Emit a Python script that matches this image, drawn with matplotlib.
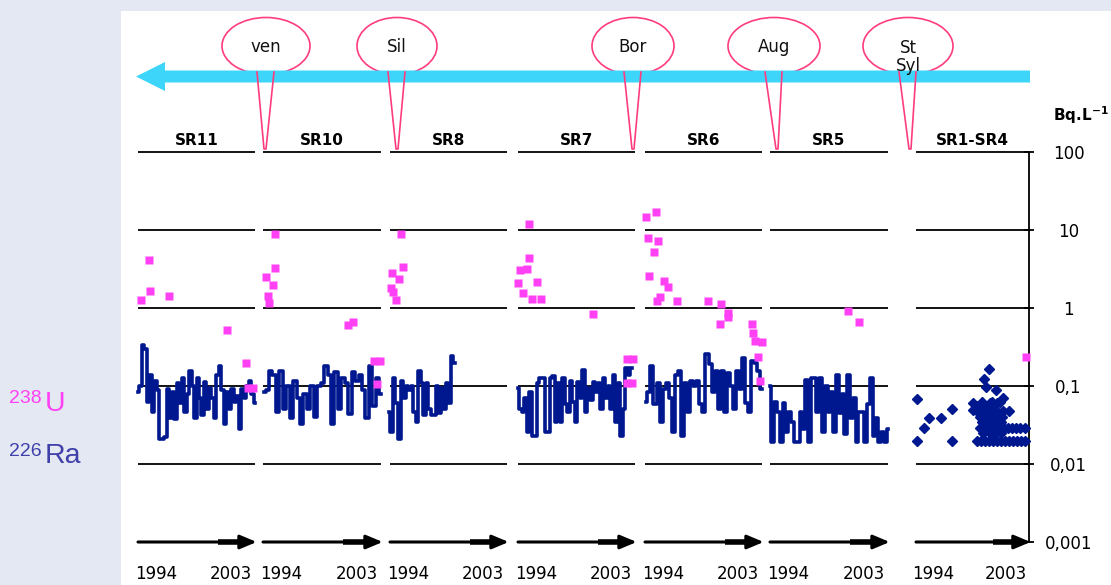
import numpy as np
import matplotlib
matplotlib.use("Agg")
import matplotlib.pyplot as plt
from matplotlib.patches import Ellipse, FancyArrow, Rectangle
from matplotlib.ticker import NullLocator

# ---- data -----------------------------------------------------------------
stations = ["SR11", "SR10", "SR8", "SR7", "SR6", "SR5", "SR1-SR4"]
year_ticks = [1994, 2003]
y_ticks = [100, 10, 1, 0.1, 0.01, 0.001]
y_tick_labels = ["100", "10", "1", "0,1", "0,01", "0,001"]
pin_labels = ["ven", "Sil", "Bor", "Aug", "St\nSyl"]

# 226Ra, regular sampling: (first year, last year) + values in Bq/L
ra_sr11_span = (1991.8, 2005.9)
ra_sr11 = [0.083, 0.10, 0.34, 0.30, 0.063, 0.14, 0.046, 0.115, 0.09, 0.021,
           0.021, 0.022, 0.091, 0.039, 0.085, 0.038, 0.11, 0.06, 0.127, 0.046,
           0.078, 0.154, 0.1, 0.039, 0.127, 0.07, 0.042, 0.114, 0.051, 0.093,
           0.07, 0.039, 0.14, 0.18, 0.09, 0.033, 0.085, 0.05, 0.091, 0.063,
           0.075, 0.028, 0.091, 0.07, 0.1, 0.115, 0.08, 0.06]
ra_sr10_span = (1991.9, 2005.9)
ra_sr10 = [0.085, 0.09, 0.154, 0.14, 0.047, 0.154, 0.05, 0.1, 0.039, 0.115,
           0.07, 0.033, 0.08, 0.05, 0.1, 0.04, 0.1, 0.11, 0.18, 0.14, 0.033,
           0.15, 0.05, 0.127, 0.11, 0.044, 0.15, 0.115, 0.14, 0.09, 0.039,
           0.18, 0.055, 0.127, 0.08]
ra_sr8_span = (1991.7, 1999.6)
ra_sr8 = [0.047, 0.026, 0.127, 0.06, 0.021, 0.115, 0.07, 0.1, 0.09, 0.1,
          0.047, 0.035, 0.154, 0.11, 0.042, 0.11, 0.05, 0.042, 0.042, 0.1,
          0.045, 0.095, 0.05, 0.11, 0.06, 0.24, 0.2]
ra_sr7_span = (1991.8, 2005.5)
ra_sr7 = [0.093, 0.051, 0.047, 0.07, 0.026, 0.085, 0.023, 0.023, 0.11, 0.127,
          0.127, 0.026, 0.026, 0.127, 0.133, 0.035, 0.11, 0.035, 0.127, 0.058,
          0.047, 0.115, 0.063, 0.035, 0.114, 0.07, 0.16, 0.046, 0.093, 0.066,
          0.114, 0.085, 0.11, 0.05, 0.127, 0.07, 0.1, 0.05, 0.14, 0.035, 0.11,
          0.023, 0.051, 0.17, 0.14, 0.17]
ra_sr6_span = (1991.9, 2005.9)
ra_sr6 = [0.063, 0.085, 0.18, 0.058, 0.11, 0.035, 0.091, 0.11, 0.07, 0.026,
          0.14, 0.154, 0.023, 0.11, 0.047, 0.115, 0.1, 0.115, 0.058, 0.046,
          0.26, 0.19, 0.085, 0.154, 0.051, 0.154, 0.046, 0.147, 0.1, 0.051,
          0.154, 0.091, 0.23, 0.06, 0.046, 0.207, 0.2, 0.154, 0.091]
ra_sr5_span = (1991.8, 2005.9)
ra_sr5 = [0.1, 0.019, 0.063, 0.047, 0.019, 0.06, 0.026, 0.047, 0.035, 0.019,
          0.019, 0.046, 0.028, 0.12, 0.019, 0.127, 0.127, 0.046, 0.127, 0.026,
          0.1, 0.046, 0.085, 0.026, 0.14, 0.045, 0.078, 0.024, 0.14, 0.039,
          0.07, 0.019, 0.047, 0.046, 0.019, 0.058, 0.127, 0.023, 0.039, 0.019,
          0.026, 0.019, 0.028]
# SR1-SR4: individual samples
ra_sr14_years = [1991.9, 1992.8, 1993.4, 1994.9, 1996.3, 1991.9, 1996.3,
                 2000.9, 2000.3, 2000.5, 2001.8, 2002.7, 1998.9, 1998.9, 1999.8,
                 2001.0, 2001.9, 2000.2, 2000.7, 2001.2, 2001.7, 2002.2, 2002.7,
                 2003.4, 1999.8, 2000.4, 2001.0, 2001.6, 2002.2, 2002.5,
                 1999.8, 2000.3, 2000.8, 2001.3, 2001.8, 2002.3, 2002.8, 2003.3,
                 2003.8, 2004.3, 2004.8, 2005.4,
                 1999.4, 1999.9, 2000.4, 2000.9, 2001.4, 2001.9, 2002.4, 2002.9,
                 2003.4, 2003.9, 2004.4, 2004.9, 2005.4,
                 2000.0, 2000.6, 2001.2, 2001.8, 2002.4, 2000.2, 2001.0, 2001.7,
                 2002.4, 2000.0, 2001.3, 2002.3, 1999.4, 1999.6, 2000.5, 2001.5]
ra_sr14_vals = [0.068, 0.029, 0.039, 0.039, 0.051, 0.0197, 0.0197,
                0.165, 0.123, 0.097, 0.089, 0.070, 0.060, 0.049, 0.057,
                0.060, 0.060, 0.047, 0.045, 0.050, 0.047, 0.045, 0.048,
                0.048, 0.040, 0.040, 0.040, 0.040, 0.040, 0.040,
                0.029, 0.029, 0.029, 0.029, 0.029, 0.029, 0.029, 0.029,
                0.029, 0.029, 0.029, 0.029,
                0.0197, 0.0197, 0.0197, 0.0197, 0.0197, 0.0197, 0.0197, 0.0197,
                0.0197, 0.0197, 0.0197, 0.0197, 0.0197,
                0.035, 0.035, 0.035, 0.035, 0.035, 0.025, 0.025, 0.025,
                0.025, 0.063, 0.063, 0.063, 0.055, 0.045, 0.053, 0.055]

# 238U samples
u_sr11_years = [1993.1, 1993.25, 1992.2, 1995.5, 2002.5, 2004.8, 2005.05, 2005.6]
u_sr11_vals = [4.1, 1.65, 1.27, 1.43, 0.52, 0.2, 0.094, 0.094]
u_sr10_years = [1993.25, 1993.25, 1992.15, 1993.0, 1992.4, 1992.5, 2001.9,
                2002.5, 2005.05, 2005.8, 2005.4]
u_sr10_vals = [8.9, 3.3, 2.5, 2.0, 1.43, 1.16, 0.6, 0.66, 0.21, 0.21, 0.106]
u_sr8_years = [1993.1, 1993.4, 1992.05, 1992.9, 1991.9, 1992.15, 1992.5]
u_sr8_vals = [8.9, 3.4, 2.8, 2.35, 1.8, 1.6, 1.27]
u_sr7_years = [1993.1, 1993.1, 1992.05, 1992.9, 1991.8, 1992.4, 1993.5, 1994.1,
               1994.6, 2000.8, 2004.9, 2005.65, 2005.55, 2004.9]
u_sr7_vals = [11.9, 4.4, 3.1, 3.2, 2.1, 1.55, 1.3, 2.15, 1.3, 0.84, 0.22, 0.22,
              0.109, 0.109]
u_sr6_years = [1991.9, 1993.1, 1992.15, 1993.35, 1992.9, 1992.3, 1994.1, 1994.6,
               1993.6, 1993.25, 1995.65, 1999.4, 2000.95, 2001.8, 2001.8, 2000.8,
               2004.7, 2004.8, 2005.05, 2005.85, 2005.4, 2005.65]
u_sr6_vals = [14.7, 17.0, 7.9, 7.2, 5.2, 2.6, 2.2, 1.86, 1.38, 1.23, 1.23, 1.23,
              1.12, 0.86, 0.77, 0.62, 0.62, 0.48, 0.38, 0.37, 0.235, 0.116]
u_sr5_years = [2001.1, 2002.4]
u_sr5_vals = [0.92, 0.66]
u_sr14_years = [2005.5]
u_sr14_vals = [0.235]

# ---- layout / style --------------------------------------------------------
W, H = 1111, 585
BG = "#e3e8f2"
PINK = "#ff40f4"
NAVY = "#00188f"
RA_TXT = "#4040aa"
PIN_EDGE = "#ff3c7c"
CYAN = "#3dd6fa"
plt.rcParams["font.family"] = ["DejaVu Sans"]

panel_left = [138, 263, 390, 518, 645, 770, 916]
panel_right = [255, 381, 507, 635, 762, 888, 1029]
top_px, bot_px, px100, dec_px = 140, 558, 152, 78
xlim = (1991.8, 2005.9)
ylim = (10 ** (-3 - (bot_px - (px100 + 5 * dec_px)) / dec_px),
        10 ** (2 + (px100 - top_px) / dec_px))

ra_series = [(ra_sr11_span, ra_sr11), (ra_sr10_span, ra_sr10),
             (ra_sr8_span, ra_sr8), (ra_sr7_span, ra_sr7),
             (ra_sr6_span, ra_sr6), (ra_sr5_span, ra_sr5), None]
u_series = [(u_sr11_years, u_sr11_vals), (u_sr10_years, u_sr10_vals),
            (u_sr8_years, u_sr8_vals), (u_sr7_years, u_sr7_vals),
            (u_sr6_years, u_sr6_vals), (u_sr5_years, u_sr5_vals),
            (u_sr14_years, u_sr14_vals)]

fig = plt.figure(figsize=(W / 100, H / 100), dpi=100, facecolor=BG)
fig.add_artist(Rectangle((121 / W, 0), 1 - 121 / W, (H - 11) / H,
                         transform=fig.transFigure, facecolor="white",
                         edgecolor="none", zorder=0))

for i, name in enumerate(stations):
    L, R = panel_left[i], panel_right[i]
    ax = fig.add_axes([L / W, (H - bot_px) / H, (R - L) / W,
                       (bot_px - top_px) / H])
    ax.set_yscale("log")
    ax.set_xlim(xlim)
    ax.set_ylim(ylim)
    ax.patch.set_alpha(0)
    for s in ax.spines.values():
        s.set_visible(False)
    for lvl in y_ticks[:-1]:
        ax.axhline(lvl, color="black", lw=1.3, zorder=1)
    # time arrow
    ax.annotate("", xy=(xlim[1] + 0.2, 0.001), xytext=(xlim[0], 0.001),
                arrowprops=dict(arrowstyle="-|>,head_length=1.0,head_width=0.42",
                                lw=2.2, color="black", shrinkA=0, shrinkB=0,
                                mutation_scale=10),
                annotation_clip=False)
    ax.plot([2001.4, 2004.6], [0.001, 0.001], color="black", lw=4,
            solid_capstyle="butt", clip_on=False)

    if ra_series[i] is not None:
        (y0, y1), vals = ra_series[i]
        t = np.linspace(y0, y1, len(vals))
        ax.plot(t, vals, color=NAVY, lw=2.6, zorder=3, clip_on=False,
                drawstyle="steps-mid")
    else:
        ax.plot(ra_sr14_years, ra_sr14_vals, "D", color=NAVY, ms=4.6,
                mec=NAVY, zorder=3, clip_on=False)
    uy, uv = u_series[i]
    ax.plot(uy, uv, "s", color=PINK, ms=6.4, mec="none", zorder=4,
            clip_on=False)

    ax.set_xticks(year_ticks)
    ax.set_xticklabels([str(y) for y in year_ticks])
    ax.tick_params(axis="x", length=0, pad=5, labelsize=12)
    ax.yaxis.set_minor_locator(NullLocator())
    ax.annotate(name, xy=(0.5, 100), xycoords=("axes fraction", "data"),
                xytext=(0, 5), textcoords="offset points", ha="center",
                va="baseline", fontsize=11, fontweight="bold")

    if i == len(stations) - 1:
        sp = ax.spines["right"]
        sp.set_visible(True)
        sp.set_linewidth(1.3)
        sp.set_bounds(0.001, 100)
        ax.yaxis.tick_right()
        ax.set_yticks(y_ticks)
        ax.set_yticklabels(y_tick_labels)
        ax.yaxis.set_minor_locator(NullLocator())
        ax.tick_params(axis="y", direction="inout", length=7, width=1.3,
                       pad=25, labelsize=12)
        for lb in ax.get_yticklabels():
            lb.set_horizontalalignment("center")
    else:
        ax.set_yticks([])

# ---- decorations (pixel overlay) ------------------------------------------
ov = fig.add_axes([0, 0, 1, 1])
ov.set_xlim(0, W)
ov.set_ylim(H, 0)
ov.axis("off")
ov.patch.set_alpha(0)

pin_cx = [266, 397, 633, 774, 908]
pin_tip = [265, 397, 633, 777, 910]
pin_w = [88, 80, 82, 92, 90]
for lab, cx, tip, w in zip(pin_labels, pin_cx, pin_tip, pin_w):
    ov.add_patch(Ellipse((cx, 46), w, 57, facecolor="white",
                         edgecolor=PIN_EDGE, lw=1.2, zorder=1))
    ov.plot([cx - 9, tip - 1, tip + 1, cx + 8], [72, 149, 149, 72],
            color=PIN_EDGE, lw=1.2, zorder=3)
    ty = 57 if "\n" in lab else 47
    ov.text(cx, ty, lab, ha="center", va="center", fontsize=12,
            linespacing=1.05, zorder=4, color="#111111")

ov.add_patch(FancyArrow(1030, 76.5, -894, 0, width=12, head_width=29,
                        head_length=29, length_includes_head=True,
                        color=CYAN, lw=0, zorder=2))

ov.text(1053, 121, r"Bq.L$^{\mathbf{-1}}$", fontsize=11, fontweight="bold",
        ha="left", va="baseline")

# legend on the grey band
ov.text(9, 403, "238", color=PINK, fontsize=14, family="Liberation Sans",
        va="baseline")
ov.text(45, 411, "U", color=PINK, fontsize=20.5, family="Liberation Sans",
        va="baseline")
ov.text(9, 456, "226", color=RA_TXT, fontsize=14, family="Liberation Sans",
        va="baseline")
ov.text(45, 463, "Ra", color=RA_TXT, fontsize=20.5, family="Liberation Sans",
        va="baseline")

fig.savefig("out.png", dpi=100, facecolor=BG)
